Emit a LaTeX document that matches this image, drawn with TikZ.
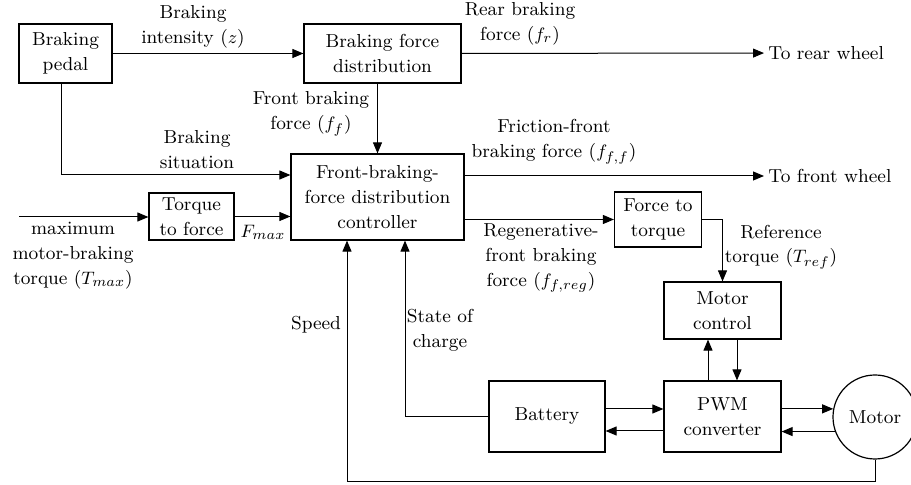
\documentclass[tikz,border=0pt]{standalone}
\usepackage{amsmath}
\usetikzlibrary{arrows.meta}

\begin{document}
\begin{tikzpicture}[x=0.5pt, y=-0.5pt,
  font=\fontsize{9.4}{12.5}\selectfont,
  box/.style={draw, line width=0.6pt, align=center, inner sep=0pt},
  link/.style={-{Triangle[length=5.5pt,width=4.5pt]}, line width=0.5pt},
  lbl/.style={align=center, inner sep=0pt}]
  \useasboundingbox (0,0) rectangle (911,485);

  % Blocks
  \node[box, minimum width=46.5pt, minimum height=29.5pt] (pedal) at (65.5,53.5) {Braking\\pedal};
  \node[box, minimum width=78.5pt, minimum height=29.5pt] (bfd) at (382.5,53.5) {Braking force\\distribution};
  \node[box, minimum width=86.5pt, minimum height=43pt] (ctrl) at (377.5,197) {Front-braking-\\force distribution\\controller};
  \node[box, minimum width=42.5pt, minimum height=23.5pt] (ttf) at (191.5,216.5) {Torque\\to force};
  \node[box, minimum width=43.5pt, minimum height=27.5pt] (ftt) at (658,219.5) {Force to\\torque};
  \node[box, minimum width=58.5pt, minimum height=28.5pt] (mctrl) at (722.5,310.5) {Motor\\control};
  \node[box, minimum width=58.5pt, minimum height=35.5pt] (pwm) at (722.5,416.5) {PWM\\converter};
  \node[box, minimum width=58pt, minimum height=35.5pt] (batt) at (547,416.5) {Battery};
  \node[box, circle, minimum size=42pt] (motor) at (875,417) {Motor};

  % Outputs
  \node[anchor=west, inner sep=2pt] (rear) at (764,53) {To rear wheel};
  \node[anchor=west, inner sep=2pt] (front) at (764,176) {To front wheel};
  \coordinate (tin) at (19,217);

  % Signal labels
  \node[lbl] (lz) at (193,27) {Braking\\intensity ($z$)};
  \node[lbl] (lfr) at (520,24) {Rear braking\\force ($f_r$)};
  \node[lbl] (lff) at (311,114) {Front braking\\force ($f_f$)};
  \node[lbl] (lsit) at (197,150) {Braking\\situation};
  \node[lbl] (ltmax) at (73,256) {maximum\\motor-braking\\torque ($T_{max}$)};
  \node[lbl] (lfmax) at (263,232) {$F_{max}$};
  \node[lbl] (lfff) at (554,142) {Friction-front\\braking force ($f_{f,f}$)};
  \node[lbl] (lreg) at (541,258) {Regenerative-\\front braking\\force ($f_{f,reg}$)};
  \node[lbl] (ltref) at (781,247) {Reference\\torque ($T_{ref}$)};
  \node[lbl] (lspeed) at (316,325) {Speed};
  \node[lbl] (lsoc) at (440,330) {State of\\charge};

  % Top part
  \draw[link] (pedal) -- (bfd);
  \draw[link] (bfd) -- (rear);
  \draw[link] (bfd.south -| ctrl.north) -- (ctrl.north);
  \draw[link] ([xshift=-2.25pt]pedal.south) |- ([yshift=11pt]ctrl.west);
  \draw[link] (tin) -- (tin -| ttf.west);
  \draw[link] (ttf) -- (ttf -| ctrl.west);

  % Controller outputs
  \draw[link] (ctrl.east |- front.west) -- (front);
  \draw[link] (ctrl.east |- ftt) -- (ftt);
  \draw[link] (ftt.east) -| (mctrl.north);

  % Drive
  \draw[link] ([xshift=-7.25pt]pwm.north) -- ([xshift=-7.25pt]mctrl.south);
  \draw[link] ([xshift=7.25pt]mctrl.south) -- ([xshift=7.25pt]pwm.north);
  \draw[link] ([yshift=3.75pt]batt.east) -- ([yshift=3.75pt]pwm.west);
  \draw[link] ([yshift=-7.25pt]pwm.west) -- ([yshift=-7.25pt]batt.east);
  \draw[link] (pwm.east |- motor.169) -- (motor.169);
  \draw[link] (motor.200) -- (pwm.east |- motor.200);

  % Feedback
  \draw[link] (batt.west) -| ([xshift=13.75pt]ctrl.south);
  \draw[link] (motor.south) -- ++(0,22) -| ([xshift=-15.25pt]ctrl.south);
\end{tikzpicture}
\end{document}
